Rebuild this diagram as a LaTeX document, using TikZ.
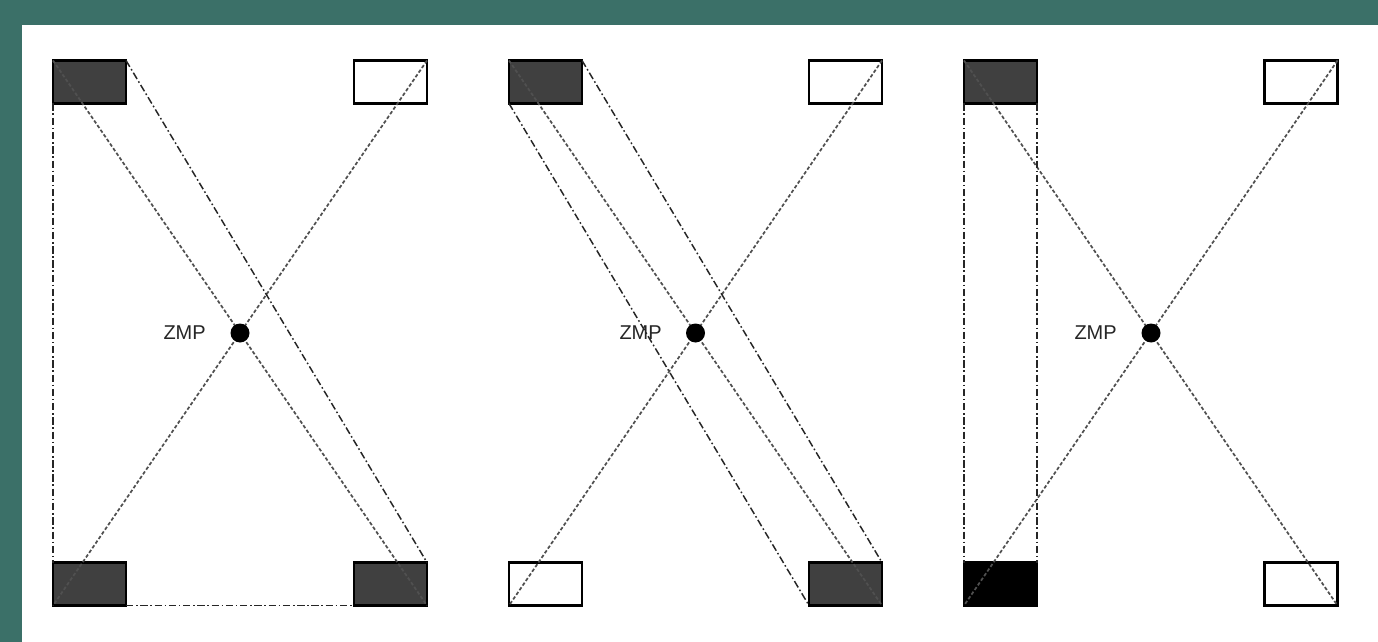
\documentclass[tikz,border=0pt]{standalone}
\usepackage{fontspec}
\newfontfamily\zmpfont{Liberation Sans}
\definecolor{bgteal}{RGB}{59,112,104}
\definecolor{footdark}{RGB}{64,64,64}
\definecolor{dotgray}{RGB}{80,80,80}
\begin{document}
\begin{tikzpicture}[x=0.75pt,y=-0.75pt,
  foot/.style={draw=black,line width=1.6pt,rectangle,inner sep=0pt,outer sep=0pt,minimum width=54.75pt,minimum height=32.25pt},
  darkfoot/.style={foot,fill=footdark},
  blackfoot/.style={foot,fill=black},
  emptyfoot/.style={foot,fill=white},
  diag/.style={draw=dotgray,line width=1.3pt,dash pattern=on 2.6pt off 1.6pt},
  hull/.style={draw=black!85,line width=1.1pt,dash pattern=on 5.5pt off 2pt on 1.2pt off 2pt},
  zmpdot/.style={circle,fill=black,inner sep=0pt,minimum size=14.25pt},
  zmplabel/.style={anchor=east,inner sep=0pt,font=\zmpfont\fontsize{15pt}{18pt}\selectfont,text=black!85}
]
\fill[bgteal] (0,0) rectangle (1378,642);
\fill[white] (22,25) rectangle (1378,642);

% Panel 1
\node[darkfoot] (a1tl) at (89.5,82) {};
\node[emptyfoot] (a1tr) at (390.5,82) {};
\node[darkfoot] (a1bl) at (89.5,584) {};
\node[darkfoot] (a1br) at (390.5,584) {};
\draw[diag] (a1tl.north west) -- (a1br.south east);
\draw[diag] (a1tr.north east) -- (a1bl.south west);
\draw[hull] (a1tl.south west) -- (a1bl.north west);
\draw[hull] (a1tl.north east) -- (a1br.north east);
\draw[hull] (a1bl.south east) -- (a1br.south west);
\node[zmpdot] (z1) at (240,333) {};
\node[zmplabel] (t1) at (206,333) {ZMP};

% Panel 2
\node[darkfoot] (a2tl) at (545.5,82) {};
\node[emptyfoot] (a2tr) at (845.5,82) {};
\node[emptyfoot] (a2bl) at (545.5,584) {};
\node[darkfoot] (a2br) at (845.5,584) {};
\draw[diag] (a2tl.north west) -- (a2br.south east);
\draw[diag] (a2tr.north east) -- (a2bl.south west);
\draw[hull] (a2tl.north east) -- (a2br.north east);
\draw[hull] (a2tl.south west) -- (a2br.south west);
\node[zmpdot] (z2) at (695.5,333) {};
\node[zmplabel] (t2) at (662,333) {ZMP};

% Panel 3
\node[darkfoot] (a3tl) at (1000.5,82) {};
\node[emptyfoot] (a3tr) at (1301,82) {};
\node[blackfoot] (a3bl) at (1000.5,584) {};
\node[emptyfoot] (a3br) at (1301,584) {};
\draw[diag] (a3tl.north west) -- (a3br.south east);
\draw[diag] (a3tr.north east) -- (a3bl.south west);
\draw[hull] (a3tl.south west) -- (a3bl.north west);
\draw[hull] (a3tl.south east) -- (a3bl.north east);
\node[zmpdot] (z3) at (1151,333) {};
\node[zmplabel] (t3) at (1117,333) {ZMP};
\end{tikzpicture}
\end{document}
